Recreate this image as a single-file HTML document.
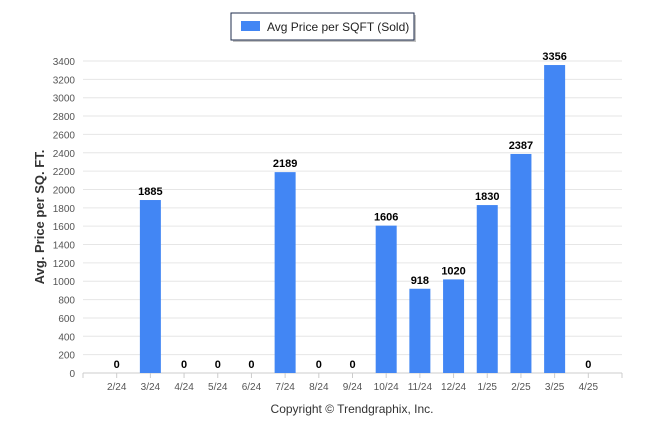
<!DOCTYPE html>
<html><head><meta charset="utf-8"><style>
body{margin:0;background:#fff;font-family:"Liberation Sans",sans-serif;}
svg text{font-family:"Liberation Sans",sans-serif;}
</style></head><body>
<svg width="646" height="434">
<g>
<rect x="233" y="15" width="183" height="27" fill="#888" opacity="0.5"/>
<rect x="231" y="13" width="183" height="27" fill="#fff" stroke="#1f2d4d" stroke-width="1"/>
<rect x="241" y="21" width="19" height="10" fill="#4286f4"/>
<text x="267" y="31" font-size="12" fill="#222">Avg Price per SQFT (Sold)</text>
</g>
<g id="grid"></g>
<g id="bars"></g>
<text transform="translate(44,217) rotate(-90)" text-anchor="middle" font-size="13" font-weight="bold" fill="#333">Avg. Price per SQ. FT.</text>
<text x="352" y="413" text-anchor="middle" font-size="12" fill="#333">Copyright © Trendgraphix, Inc.</text>
</svg>
<script>
const categories=["2/24","3/24","4/24","5/24","6/24","7/24","8/24","9/24","10/24","11/24","12/24","1/25","2/25","3/25","4/25"];
const values=[0,1885,0,0,0,2189,0,0,1606,918,1020,1830,2387,3356,0];
const yTicks=[0,200,400,600,800,1000,1200,1400,1600,1800,2000,2200,2400,2600,2800,3000,3200,3400];
const L=83,R=622,B=373,T=61,YMAX=3400,NS=16;
const ns="http://www.w3.org/2000/svg";
const y=v=>B-(v/YMAX)*(B-T);
const slot=(R-L)/NS;
const x=i=>L+slot*(i+1);
const grid=document.getElementById('grid'),bars=document.getElementById('bars');
function mk(t,a,p){const e=document.createElementNS(ns,t);for(const k in a)e.setAttribute(k,a[k]);p.appendChild(e);return e;}
yTicks.forEach(v=>{
 const l=mk('line',{x1:L,x2:R,y1:y(v),y2:y(v),stroke:'#e6e6e6'},grid);
 
 
 const t=mk('text',{x:L-8,y:y(v)+4,'text-anchor':'end','font-size':'10',fill:'#555'},grid);
 
 
 t.textContent=v;
});
mk('line',{x1:L,x2:R,y1:B,y2:B,stroke:'#ccc'},grid);
for(let i=0;i<=NS;i++){mk('line',{x1:L+slot*i,x2:L+slot*i,y1:B,y2:B+5,stroke:'#ccc'},grid);}
categories.forEach((c,i)=>{
 const cx=x(i),v=values[i],bw=21;
 if(v>0){const r=mk('rect',{x:cx-bw/2,y:y(v),width:bw,height:B-y(v),fill:'#4286f4'},bars);
 
 }
 const vl=mk('text',{x:cx,y:y(v)-5,'text-anchor':'middle','font-size':'11','font-weight':'bold',fill:'#000'},bars);
 
 
 vl.textContent=v;
 const xl=mk('text',{x:cx,y:B+17,'text-anchor':'middle','font-size':'10',fill:'#555'},bars);
 
 
 xl.textContent=c;
});
</script>
</body></html>
